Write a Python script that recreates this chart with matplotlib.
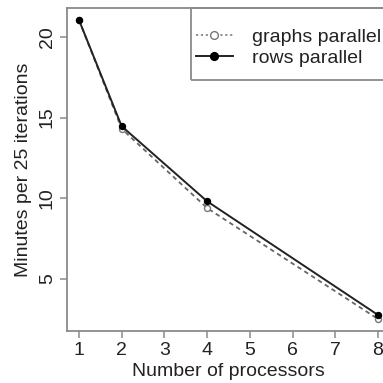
import matplotlib
matplotlib.use("Agg")
import matplotlib.pyplot as plt
from matplotlib.patches import Rectangle

plt.rcParams['font.family'] = ['Liberation Sans', 'DejaVu Sans']

# minutes per 25 iterations for each processor count
processors = [1, 2, 4, 8]
graphs_parallel = [21.06, 14.30, 9.38, 2.49]
rows_parallel = [21.06, 14.46, 9.80, 2.74]
x_ticks = [1, 2, 3, 4, 5, 6, 7, 8]
y_ticks = [5, 10, 15, 20]

W = 383.0
fig = plt.figure(figsize=(3.83, 3.83), dpi=100)
# axes box runs off the right edge, like a cropped R plot
ax = fig.add_axes([67 / W, (W - 331) / W, (390 - 67) / W, (331 - 8) / W])

grey = '#8a8a8a'
ax.plot(processors, graphs_parallel, linestyle=(0, (2.5, 2)), color='#666666', lw=1.3,
        marker='o', markersize=4.3, markerfacecolor='white', markeredgecolor='#777777',
        markeredgewidth=1.0, label='graphs parallel')
ax.plot(processors, rows_parallel, linestyle='-', color='#222222', lw=1.4,
        marker='o', markersize=4.3, markerfacecolor='black', markeredgecolor='black',
        label='rows parallel')

# R-style 4% padding on both axes
xr = max(processors) - min(processors)
ax.set_xlim(min(processors) - 0.04 * xr, max(processors) + 0.04 * xr)
allv = graphs_parallel + rows_parallel
yr = max(allv) - min(allv)
ax.set_ylim(min(allv) - 0.04 * yr, max(allv) + 0.04 * yr)

ax.set_xticks(x_ticks)
ax.set_yticks(y_ticks)
ax.set_yticklabels([str(v) for v in y_ticks], rotation=90, va='center')
ax.tick_params(direction='out', length=5, width=1.1, color=grey,
               labelsize=14, labelcolor='#222222', pad=3)
ax.tick_params(axis='y', pad=3)
for s in ax.spines.values():
    s.set_color(grey)
    s.set_linewidth(1.3)

ax.set_xlabel('Number of processors', fontsize=14, color='#222222', labelpad=3)
ax.set_ylabel('Minutes per 25 iterations', fontsize=14, color='#222222', labelpad=5)

leg = ax.legend(loc='upper left', bbox_to_anchor=(196 / W, 1 - 28 / W),
                bbox_transform=fig.transFigure, frameon=False, fontsize=14,
                handlelength=1.9, handletextpad=1.0, labelspacing=0.2,
                borderpad=0, borderaxespad=0, markerscale=1.3)
for t in leg.get_texts():
    t.set_color('#222222')
leg.get_lines()[0].set_linestyle((0, (1.2, 1.5)))
leg.get_lines()[0].set_color('#888888')

# legend box, drawn in figure pixels
box = Rectangle((191, W - 80), 220, 72, transform=None, fill=False,
                edgecolor=grey, linewidth=1.3)
fig.add_artist(box)

fig.savefig('out.png', dpi=100)
